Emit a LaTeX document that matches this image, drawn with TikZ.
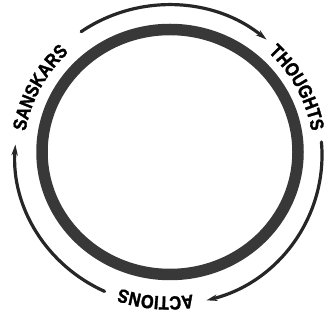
\documentclass[tikz,border=0pt]{standalone}
\usepackage{fontspec}
\newfontfamily\lblfont{Liberation Sans Bold}[FakeStretch=0.86, FakeBold=1.6]
\usetikzlibrary{arrows.meta,decorations.text}
\definecolor{ink}{HTML}{262626}
\definecolor{ringc}{HTML}{383838}
\begin{document}
\lblfont\fontsize{19}{22}\selectfont\color{ink}%
\begin{tikzpicture}[x=1pt,y=1pt,
  cyc/.style={draw=ink, line width=3.2pt, line cap=round, -{Stealth[length=11pt,width=6.5pt]}},
  lbl/.style={decorate, decoration={text along path, text align=center}}]
\useasboundingbox (0,0) rectangle (329,321);
\coordinate (rc) at (170,169);
\coordinate (oc) at (168.5,166);
% thick ring
\draw[ringc, line width=11.5pt] (rc) ellipse [x radius=128, y radius=122.5];
% arc end points
\coordinate (a1) at ([shift={(124.7:153.5 and 150)}]oc);
\coordinate (a2) at ([shift={(5:153.5 and 150)}]oc);
\coordinate (a3) at ([shift={(-114.6:153.5 and 150)}]oc);
% cycle arrows
\draw[cyc] (a1) arc[start angle=124.7, end angle=50.3, x radius=153.5, y radius=150];
\draw[cyc] (a2) arc[start angle=5, end angle=-75.7, x radius=153.5, y radius=150];
\draw[cyc] (a3) arc[start angle=-114.6, end angle=-184, x radius=153.5, y radius=150];
% labels
\path[lbl, decoration={text={SANSKARS}}]
  ([shift={(182:145 and 141.5)}]oc) arc[start angle=182, end angle=122, x radius=145, y radius=141.5];
\path[lbl, decoration={text={THOUGHTS}}]
  ([shift={(58:145 and 141.5)}]oc) arc[start angle=58, end angle=-2, x radius=145, y radius=141.5];
\path[lbl, decoration={text={ACTIONS}}]
  ([shift={(-65:145 and 141.5)}]oc) arc[start angle=-65, end angle=-125, x radius=145, y radius=141.5];
\end{tikzpicture}
\end{document}
